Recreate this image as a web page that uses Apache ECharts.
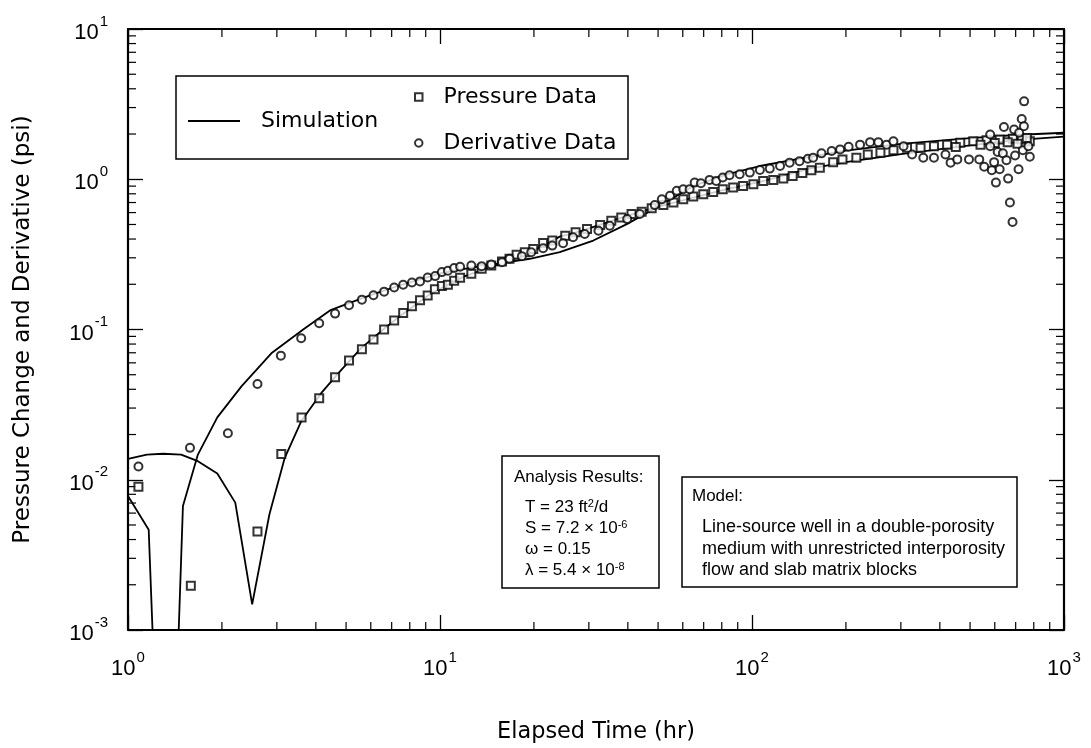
<!DOCTYPE html>
<html>
<head>
<meta charset="utf-8">
<script src="https://cdn.jsdelivr.net/npm/echarts@6/dist/echarts.min.js"></script>
<style>
html,body{margin:0;padding:0;background:#fff;}
#chart{width:1091px;height:748px;}
</style>
</head>
<body>
<div id="chart"></div>
<script>
// ---- data ----
const pressureData = [
  [1.08,0.0090],[1.59,0.00197],[2.60,0.00453],[3.10,0.01486],[3.60,0.026],[4.10,0.0349],
  [4.61,0.0481],[5.11,0.0621],[5.62,0.074],[6.12,0.0859],[6.62,0.1],[7.13,0.115],[7.62,0.129],
  [8.13,0.1427],[8.63,0.1563],[9.13,0.1687],[9.63,0.185],[10.14,0.1946],[10.6,0.1986],[11.1,0.211],
  [11.6,0.221],[12.6,0.235],[13.6,0.2535],[14.6,0.2667],[15.8,0.2836],[16.7,0.2957],[17.6,0.314],
  [18.7,0.3268],[19.9,0.344],[21.4,0.377],[22.9,0.391],[25.2,0.421],[27.2,0.444],[29.6,0.467],
  [32.6,0.496],[35.4,0.53],[38.1,0.557],[41.1,0.587],[44.3,0.607],[47.7,0.64],[52.0,0.673],
  [56.0,0.701],[60.2,0.737],[64.8,0.768],[69.8,0.795],[75.1,0.824],[80.6,0.858],[87,0.881],
  [93.6,0.903],[101,0.927],[108.6,0.975],[117,0.99],[126,1.01],[135,1.05],[145,1.10],[155,1.15],
  [165,1.195],[182,1.30],[195,1.356],[216,1.39],[235,1.46],[258,1.50],[284,1.56],[314,1.62],
  [347,1.62],[383,1.66],[422,1.70],[465,1.75],[512,1.79],[565,1.82],[622,1.84],[686,1.86],
  [732,1.84],[777,1.79],[450,1.64],[540,1.70],[600,1.74],[660,1.76],[710,1.72],[760,1.88]
];
const derivativeData = [
  [1.08,0.01225],[1.58,0.0163],[2.09,0.0204],[2.60,0.0434],[3.09,0.067],[3.59,0.0875],[4.10,0.11],
  [4.61,0.1276],[5.11,0.145],[5.62,0.158],[6.12,0.169],[6.62,0.1786],[7.13,0.1906],[7.62,0.1986],
  [8.13,0.2057],[8.63,0.209],[9.13,0.222],[9.65,0.2266],[10.14,0.241],[10.6,0.246],[11.1,0.2564],
  [11.6,0.2614],[12.6,0.2666],[13.6,0.264],[14.6,0.271],[15.8,0.2806],[16.7,0.2957],[18.3,0.3077],
  [19.6,0.3268],[21.4,0.3477],[22.9,0.3617],[24.8,0.375],[26.7,0.411],[29.1,0.432],[32.2,0.455],
  [35.0,0.491],[39.8,0.543],[43.7,0.587],[48.8,0.673],[51.4,0.737],[54.6,0.776],[57.4,0.837],
  [60.2,0.858],[63.1,0.858],[65.5,0.95],[68.6,0.941],[73.1,0.99],[76.8,0.975],[80.6,1.026],
  [84.7,1.063],[91.3,1.079],[98.4,1.107],[106,1.152],[114,1.177],[123,1.225],[132,1.29],[142,1.32],
  [151,1.37],[157,1.39],[167,1.487],[180,1.54],[191.6,1.58],[204,1.646],[222,1.70],[239,1.766],
  [254,1.766],[270,1.70],[284,1.79],[306,1.66],[326,1.46],[354,1.39],[383,1.39],[417,1.46],
  [433,1.29],[455,1.356],[496,1.356],[535,1.356],[555,1.21],[580,1.985],[580,1.66],[587,1.15],
  [597,1.30],[605,0.95],[613,1.52],[622,1.165],[637,1.487],[642,2.23],[654,1.34],[662,1.01],
  [671,0.70],[684,0.52],[692,2.14],[697,1.44],[715,1.165],[718,2.04],[732,2.52],[738,1.56],
  [744,2.25],[745,3.30],[769,1.66],[777,1.41]
];
// simulated pressure change (values below 1e-3 fall outside the plotted range)
const simPressure = [
  [1.0,0.01377],[1.15,0.0147],[1.295,0.0149],[1.48,0.0147],[1.675,0.0133],[1.933,0.011],
  [2.207,0.00704],[2.50,0.00148],[2.84,0.00589],[3.18,0.014],[3.59,0.0245],[4.16,0.0377],
  [4.82,0.0537],[5.6,0.0755],[6.65,0.102],[7.6,0.127],[9.29,0.172],[11.9,0.225],[15.1,0.267],
  [19.4,0.325],[24.2,0.415],[28.1,0.45],[39.7,0.57],[50.6,0.659],[65,0.756],[83,0.858],
  [106,0.96],[153,1.177],[200,1.30],[300,1.47],[500,1.68],[700,1.82],[1000,1.92]
];
// simulated derivative
const simDerivative = [
  [1.0,0.0078],[1.165,0.00465],[1.25,0.0001],[1.40,0.0001],[1.50,0.0067],[1.675,0.0147],
  [1.933,0.026],[2.31,0.0418],[2.88,0.0694],[3.68,0.1015],[4.44,0.134],[5.11,0.15],[6.12,0.172],
  [7.62,0.20],[10.1,0.237],[12.6,0.258],[15.1,0.2735],[19.4,0.2957],[24.2,0.327],[31,0.391],
  [39.7,0.503],[50.6,0.666],[65,0.903],[83,1.079],[106,1.225],[153,1.41],[200,1.55],[300,1.72],
  [500,1.88],[700,1.97],[1000,2.04]
];
const xMinorTicks = [2,3,4,5,6,7,8,9,20,30,40,50,60,70,80,90,200,300,400,500,600,700,800,900];
const yMinorTicks = [0.002,0.003,0.004,0.005,0.006,0.007,0.008,0.009,0.02,0.03,0.04,0.05,0.06,0.07,0.08,0.09,
  0.2,0.3,0.4,0.5,0.6,0.7,0.8,0.9,2,3,4,5,6,7,8,9];
const xRange = [1, 1000];
const yRange = [0.001, 10];

const FONT = '"Liberation Sans", Arial, Helvetica, sans-serif';
const WIDE = '"DejaVu Sans", Verdana, sans-serif';
const chart = echarts.init(document.getElementById('chart'), null, {renderer: 'canvas'});

function expLabel(v) {
  const e = Math.round(Math.log10(v));
  return '{b|10}{s|' + e + '}';
}
const labelRich = {
  b: {fontSize: 22, fontFamily: FONT, color: '#000', lineHeight: 30, verticalAlign: 'bottom'},
  s: {fontSize: 15, fontFamily: FONT, color: '#000', lineHeight: 30, verticalAlign: 'top', padding: [0,0,0,1]}
};
const axisLineStyle = {color: '#000', width: 2.2};
const majorTick = {show: true, inside: true, length: 15, lineStyle: {color: '#000', width: 1.3}};

function baseX(pos, showLabel) {
  return {
    type: 'log', logBase: 10, min: xRange[0], max: xRange[1], position: pos, gridIndex: 0,
    axisLine: {show: true, lineStyle: axisLineStyle, onZero: false},
    axisTick: majorTick, minorTick: {show: false}, splitLine: {show: false},
    axisLabel: showLabel ? {show: true, margin: 20, formatter: expLabel, rich: labelRich} : {show: false}
  };
}
function baseY(pos, showLabel) {
  return {
    type: 'log', logBase: 10, min: yRange[0], max: yRange[1], position: pos, gridIndex: 0,
    axisLine: {show: true, lineStyle: axisLineStyle, onZero: false},
    axisTick: majorTick, minorTick: {show: false}, splitLine: {show: false},
    axisLabel: showLabel ? {show: true, margin: 20, formatter: expLabel, rich: labelRich} : {show: false}
  };
}
const x0 = baseX('bottom', true);
x0.name = 'Elapsed Time (hr)';
x0.nameLocation = 'middle';
x0.nameGap = 91;
x0.nameTextStyle = {fontSize: 22.4, fontFamily: WIDE, color: '#000'};
const y0 = baseY('left', true);
y0.name = 'Pressure Change and Derivative (psi)';
y0.nameLocation = 'middle';
y0.nameGap = 93;
y0.nameTextStyle = {fontSize: 23, fontFamily: WIDE, color: '#000'};

const tickStyle = {stroke: '#000', lineWidth: 1.2};
function renderXMinor(params, api) {
  const v = api.value(0);
  const b = api.coord([v, yRange[0]]);
  const t = api.coord([v, yRange[1]]);
  return {type: 'group', children: [
    {type: 'line', shape: {x1: b[0], y1: b[1], x2: b[0], y2: b[1] - 8}, style: tickStyle},
    {type: 'line', shape: {x1: t[0], y1: t[1], x2: t[0], y2: t[1] + 8}, style: tickStyle}
  ]};
}
function renderYMinor(params, api) {
  const v = api.value(1);
  const l = api.coord([xRange[0], v]);
  const r = api.coord([xRange[1], v]);
  return {type: 'group', children: [
    {type: 'line', shape: {x1: l[0], y1: l[1], x2: l[0] + 8, y2: l[1]}, style: tickStyle},
    {type: 'line', shape: {x1: r[0], y1: r[1], x2: r[0] - 8, y2: r[1]}, style: tickStyle}
  ]};
}

function annText(x, y, txt, size) {
  return {type: 'text', x: x, y: y, z: 20,
    style: {text: txt, fontSize: size, fontFamily: FONT, fill: '#000', verticalAlign: 'middle', align: 'left',
      rich: {sup: {fontSize: 11, fontFamily: FONT, fill: '#000', verticalAlign: 'top', lineHeight: 12}}}};
}

const option = {
  animation: false,
  backgroundColor: '#fff',
  grid: {left: 128, right: 27, top: 29, bottom: 115, containLabel: false},
  xAxis: [x0, baseX('top', false)],
  yAxis: [y0, baseY('right', false)],
  legend: [
    {
      data: [{name: 'Simulation', icon: 'rect'}],
      left: 188, top: 110, padding: 0, itemWidth: 52, itemHeight: 2,
      itemStyle: {color: '#000'},
      textStyle: {fontSize: 22, fontFamily: WIDE, color: '#000', padding: [0,0,0,16]},
      selectedMode: false
    },
    {
      data: ['Pressure Data', 'Derivative Data'],
      orient: 'vertical', left: 414, top: 86, padding: 0, itemGap: 24,
      itemWidth: 7.5, itemHeight: 7.5,
      textStyle: {fontSize: 22, fontFamily: WIDE, color: '#000', padding: [0,0,0,16]},
      selectedMode: false
    }
  ],
  graphic: [
    {type: 'rect', z: 10, shape: {x: 176, y: 76, width: 452, height: 83}, style: {fill: 'none', stroke: '#000', lineWidth: 1.5}},
    {type: 'rect', z: 10, shape: {x: 502, y: 456, width: 157, height: 132}, style: {fill: '#fff', stroke: '#000', lineWidth: 1.5}},
    {type: 'rect', z: 10, shape: {x: 682, y: 477, width: 335, height: 110}, style: {fill: '#fff', stroke: '#000', lineWidth: 1.5}},
    annText(514, 477, 'Analysis Results:', 17),
    annText(525, 507, 'T = 23 ft{sup|2}/d', 17),
    annText(525, 528, 'S = 7.2 × 10{sup|-6}', 17),
    annText(525, 549, 'ω = 0.15', 17),
    annText(525, 570, 'λ = 5.4 × 10{sup|-8}', 17),
    annText(692, 496, 'Model:', 17),
    annText(702, 527, 'Line-source well in a double-porosity', 18),
    annText(702, 549, 'medium with unrestricted interporosity', 18),
    annText(702, 570, 'flow and slab matrix blocks', 18)
  ],
  series: [
    {name: 'Simulation', type: 'line', data: simPressure, symbol: 'none', clip: true, z: 3,
      lineStyle: {color: '#000', width: 1.8}, itemStyle: {color: '#000'}},
    {name: 'Simulation', type: 'line', data: simDerivative, symbol: 'none', clip: true, z: 3,
      lineStyle: {color: '#000', width: 1.8}, itemStyle: {color: '#000'}},
    {name: 'Pressure Data', type: 'scatter', data: pressureData, symbol: 'emptyRect', symbolSize: 8, z: 4,
      itemStyle: {color: '#000', borderColor: '#000', borderWidth: 1.4}},
    {name: 'Derivative Data', type: 'scatter', data: derivativeData, symbol: 'emptyCircle', symbolSize: 8, z: 4,
      itemStyle: {color: '#000', borderColor: '#000', borderWidth: 1.4}},
    {type: 'custom', data: xMinorTicks.map(v => [v, 1]), renderItem: renderXMinor, silent: true, z: 2,
      encode: {x: 0, y: 1}},
    {type: 'custom', data: yMinorTicks.map(v => [1, v]), renderItem: renderYMinor, silent: true, z: 2,
      encode: {x: 0, y: 1}}
  ]
};
chart.setOption(option);
</script>
</body>
</html>
